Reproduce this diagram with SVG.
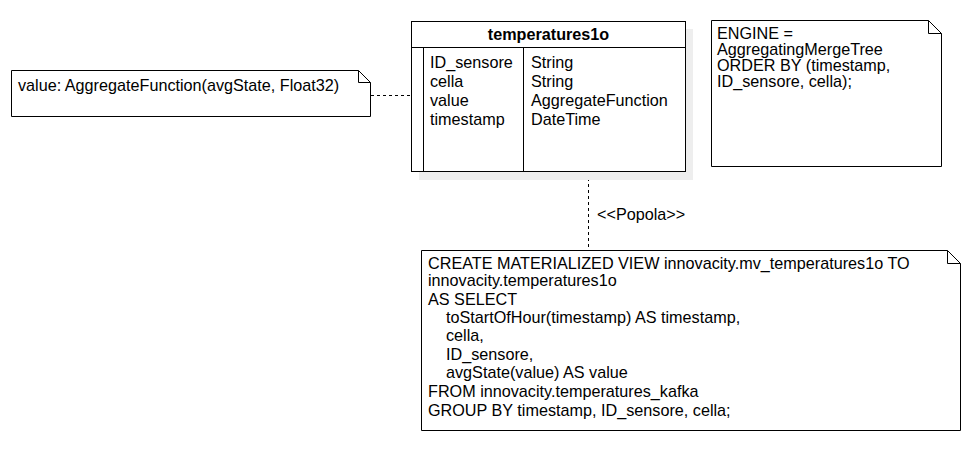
<svg xmlns="http://www.w3.org/2000/svg" width="976" height="449" viewBox="0 0 976 449">
  <style>
    .box { fill: #ffffff; stroke: #000000; stroke-width: 1; }
    .line { fill: none; stroke: #000000; stroke-width: 1; }
    .dash { fill: none; stroke: #000000; stroke-width: 1; stroke-dasharray: 3 3; }
    .txt { font-family: "Liberation Sans", Arial, sans-serif; font-size: 16.2px; fill: #000000; }
    .title { font-weight: bold; text-anchor: middle; }
  </style>
  <rect width="976" height="449" fill="#ffffff"/>

  <!-- connectors -->
  <g id="connectors">
    <line class="dash" x1="371" y1="95.5" x2="411" y2="95.5"/>
    <line class="dash" x1="588.5" y1="172" x2="588.5" y2="250"/>
    <text class="txt" x="597" y="220">&lt;&lt;Popola&gt;&gt;</text>
  </g>

  <!-- table: temperatures1o -->
  <g id="table-temperatures1o">
    <rect x="419" y="29" width="274" height="151" fill="#eeeeee"/>
    <rect class="box" x="411.5" y="21.5" width="274" height="150"/>
    <line class="line" x1="411.5" y1="47.5" x2="685.5" y2="47.5"/>
    <line class="line" x1="423.5" y1="47.5" x2="423.5" y2="171.5"/>
    <line class="line" x1="523.5" y1="47.5" x2="523.5" y2="171.5"/>
    <text class="txt title" x="548.5" y="40">temperatures1o</text>
    <text class="txt" x="430" y="68">ID_sensore</text>
    <text class="txt" x="430" y="87">cella</text>
    <text class="txt" x="430" y="106">value</text>
    <text class="txt" x="430" y="125">timestamp</text>
    <text class="txt" x="531" y="68">String</text>
    <text class="txt" x="531" y="87">String</text>
    <text class="txt" x="531" y="106">AggregateFunction</text>
    <text class="txt" x="531" y="125">DateTime</text>
  </g>

  <!-- note: value type -->
  <g id="note-value">
    <path class="box" d="M11.5 70.5 H358.5 L370.5 82.5 V116.5 H11.5 Z"/>
    <path class="line" d="M358.5 70.5 V82.5 H370.5"/>
    <text class="txt" x="18" y="91">value: AggregateFunction(avgState, Float32)</text>
  </g>

  <!-- note: engine -->
  <g id="note-engine">
    <path class="box" d="M711.5 20.5 H928.5 L941.5 33.5 V166.5 H711.5 Z"/>
    <path class="line" d="M928.5 20.5 V33.5 H941.5"/>
    <text class="txt" x="717" y="39">ENGINE =</text>
    <text class="txt" x="717" y="55">AggregatingMergeTree</text>
    <text class="txt" x="717" y="71">ORDER BY (timestamp,</text>
    <text class="txt" x="717" y="87">ID_sensore, cella);</text>
  </g>

  <!-- note: materialized view -->
  <g id="note-view">
    <path class="box" d="M421.5 250.5 H947.5 L960.5 263.5 V430.5 H421.5 Z"/>
    <path class="line" d="M947.5 250.5 V263.5 H960.5"/>
    <text class="txt" x="428" y="269">CREATE MATERIALIZED VIEW innovacity.mv_temperatures1o TO</text>
    <text class="txt" x="428" y="286">innovacity.temperatures1o</text>
    <text class="txt" x="428" y="305">AS SELECT</text>
    <text class="txt" x="446" y="323">toStartOfHour(timestamp) AS timestamp,</text>
    <text class="txt" x="446" y="341">cella,</text>
    <text class="txt" x="446" y="360">ID_sensore,</text>
    <text class="txt" x="446" y="378">avgState(value) AS value</text>
    <text class="txt" x="428" y="397">FROM innovacity.temperatures_kafka</text>
    <text class="txt" x="428" y="416">GROUP BY timestamp, ID_sensore, cella;</text>
  </g>
</svg>
